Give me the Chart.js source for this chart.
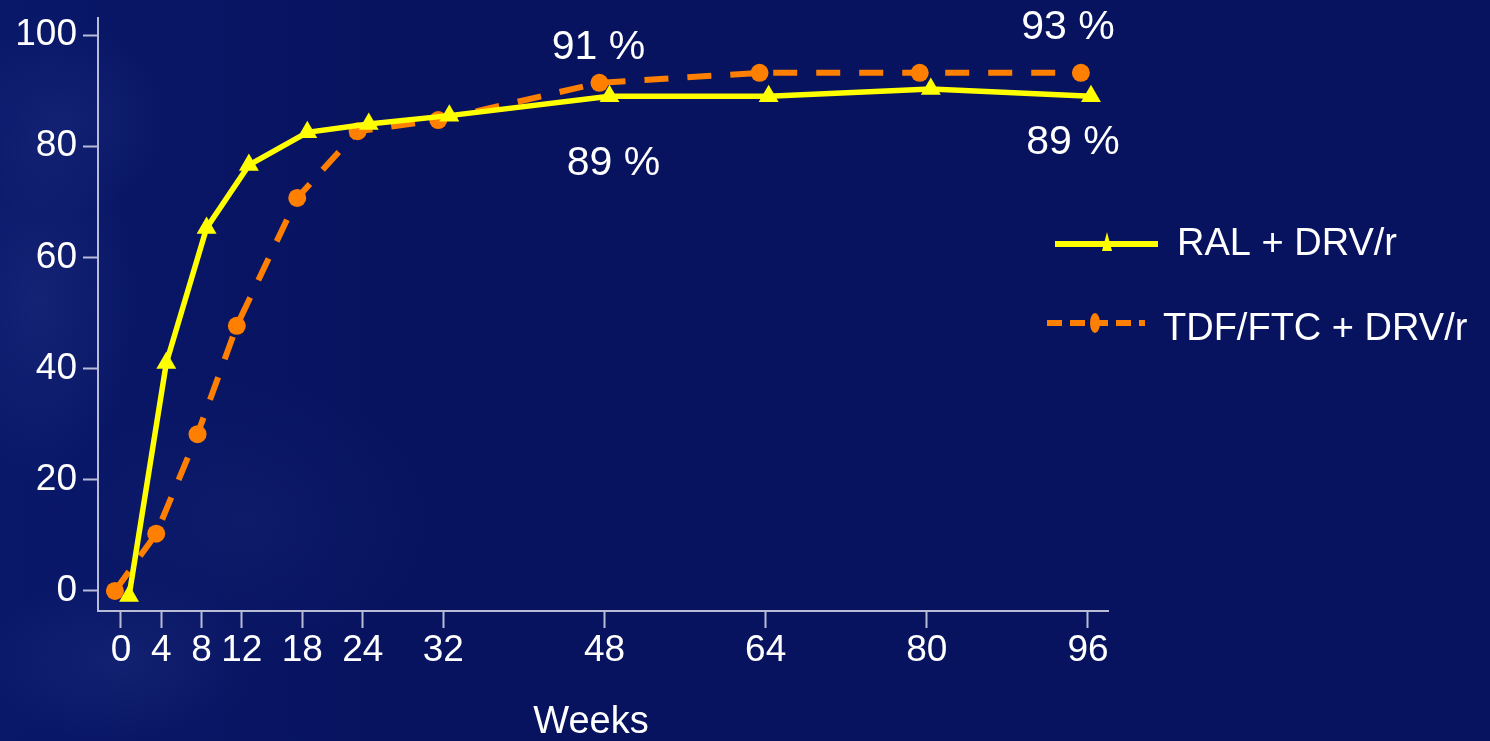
<!DOCTYPE html>
<html>
<head>
<meta charset="utf-8">
<script src="https://cdn.jsdelivr.net/npm/chart.js@4.4.1/dist/chart.umd.min.js"></script>
<style>
  html, body { margin: 0; padding: 0; }
  body {
    width: 1490px; height: 741px; overflow: hidden;
    background-color: #07135f;
    background-image:
      radial-gradient(ellipse 140px 260px at 40px 300px, rgba(60,80,160,0.20), rgba(60,80,160,0) 70%),
      radial-gradient(ellipse 200px 120px at 120px 660px, rgba(60,80,160,0.18), rgba(60,80,160,0) 70%),
      radial-gradient(ellipse 160px 140px at 60px 120px, rgba(60,80,160,0.18), rgba(60,80,160,0) 70%),
      radial-gradient(ellipse 260px 200px at 250px 520px, rgba(50,70,150,0.12), rgba(50,70,150,0) 70%),
      linear-gradient(90deg, #0a186a 0px, #07135f 380px);
  }
  canvas { display: block; }
</style>
</head>
<body>
<canvas id="c" width="1490" height="741"></canvas>
<script>
// ---- data ----
const xTicks = [0, 4, 8, 12, 18, 24, 32, 48, 64, 80, 96];
const yTicks = [0, 20, 40, 60, 80, 100];

const ralLabel = "RAL + DRV/r";
const ralWeeks = [0.8, 4.5, 8.5, 12.7, 18.5, 24.6, 32.6, 48.5, 64.3, 80.4, 96.3];
const ralValues = [-0.9, 41, 65.3, 76.6, 82.5, 84, 85.5, 89, 89, 90.3, 89];

const tdfLabel = "TDF/FTC + DRV/r";
const tdfWeeks = [-0.6, 3.5, 7.6, 11.5, 17.5, 23.5, 31.5, 47.5, 63.4, 79.3, 95.3];
const tdfValues = [0, 10.3, 28.2, 47.7, 70.7, 82.7, 84.7, 91.4, 93.2, 93.2, 93.2];

const ralAnnotations = ["89 %", "89 %"];   // at week 48 and 96
const tdfAnnotations = ["91 %", "93 %"];   // at week 48 and 96
const xTitle = "Weeks";

const FONT = '"Liberation Sans", Arial, sans-serif';
const YELLOW = '#ffff00';
const ORANGE = '#ff7f00';
const AXIS = '#b8bcd6';

const pts = (xs, ys) => xs.map((x, i) => ({ x: x, y: ys[i] }));

const overlay = {
  id: 'overlay',
  afterDatasetsDraw(chart) {
    const ctx = chart.ctx;
    const ral = chart.getDatasetMeta(0).data;
    const tdf = chart.getDatasetMeta(1).data;
    ctx.save();
    ctx.fillStyle = '#ffffff';
    ctx.textAlign = 'center';
    ctx.textBaseline = 'middle';
    ctx.font = '41px ' + FONT;
    // annotations
    const last = ral.length - 1;
    ctx.fillText(tdfAnnotations[0], tdf[7].x - 1, tdf[7].y - 35);
    ctx.fillText(tdfAnnotations[1], tdf[last].x - 13, tdf[last].y - 45);
    ctx.fillText(ralAnnotations[0], ral[7].x + 4, ral[7].y + 68);
    ctx.fillText(ralAnnotations[1], ral[last].x - 18, ral[last].y + 47);

    // axis title
    ctx.font = '38px ' + FONT;
    ctx.fillText(xTitle, 591, 723);

    // legend
    ctx.lineCap = 'butt';
    ctx.strokeStyle = YELLOW;
    ctx.lineWidth = 6;
    ctx.beginPath(); ctx.moveTo(1055, 244); ctx.lineTo(1158, 244); ctx.stroke();
    ctx.fillStyle = YELLOW;
    ctx.beginPath(); ctx.moveTo(1107, 232); ctx.lineTo(1112, 251); ctx.lineTo(1102, 251); ctx.closePath(); ctx.fill();

    ctx.strokeStyle = ORANGE;
    ctx.setLineDash([15, 8]);
    ctx.beginPath(); ctx.moveTo(1047, 323); ctx.lineTo(1145, 323); ctx.stroke();
    ctx.setLineDash([]);
    ctx.fillStyle = ORANGE;
    ctx.beginPath(); ctx.ellipse(1095, 323, 5, 10, 0, 0, Math.PI * 2); ctx.fill();

    ctx.fillStyle = '#ffffff';
    ctx.textAlign = 'left';
    ctx.font = '38px ' + FONT;
    ctx.fillText(ralLabel, 1177, 245);
    ctx.fillText(tdfLabel, 1163, 330);
    ctx.restore();
  }
};

new Chart(document.getElementById('c'), {
  type: 'line',
  data: {
    datasets: [
      {
        label: ralLabel,
        data: pts(ralWeeks, ralValues),
        borderColor: YELLOW,
        backgroundColor: YELLOW,
        borderWidth: 5.5,
        pointStyle: 'triangle',
        pointRadius: 11.5,
        pointBorderWidth: 0,
        tension: 0,
        clip: false
      },
      {
        label: tdfLabel,
        data: pts(tdfWeeks, tdfValues),
        borderColor: ORANGE,
        backgroundColor: ORANGE,
        borderWidth: 6,
        borderDash: [24, 19],
        pointStyle: 'circle',
        pointRadius: 9,
        pointBorderWidth: 0,
        tension: 0,
        clip: false
      }
    ]
  },
  options: {
    responsive: false,
    animation: false,
    events: [],
    layout: { padding: { left: 0, top: 18, right: 382, bottom: 0 } },
    plugins: { legend: { display: false }, tooltip: { enabled: false } },
    scales: {
      x: {
        type: 'linear',
        min: -2.28,
        max: 97.99,
        afterBuildTicks: (s) => { s.ticks = xTicks.map(v => ({ value: v })); },
        afterFit: (s) => { s.height = 130; },
        grid: { drawOnChartArea: false, tickLength: 17, tickColor: AXIS, tickWidth: 2 },
        border: { color: AXIS, width: 2 },
        ticks: { color: '#ffffff', font: { family: FONT, size: 37 }, padding: 1, maxRotation: 0, autoSkip: false }
      },
      y: {
        min: -3.6,
        max: 103.06,
        afterBuildTicks: (s) => { s.ticks = yTicks.map(v => ({ value: v })); },
        afterFit: (s) => { s.width = 98; },
        grid: { drawOnChartArea: false, tickLength: 15, tickColor: AXIS, tickWidth: 2 },
        border: { color: AXIS, width: 2 },
        ticks: { color: '#ffffff', font: { family: FONT, size: 37, lineHeight: 0.5 }, padding: 6 }
      }
    }
  },
  plugins: [overlay]
});
</script>
</body>
</html>
